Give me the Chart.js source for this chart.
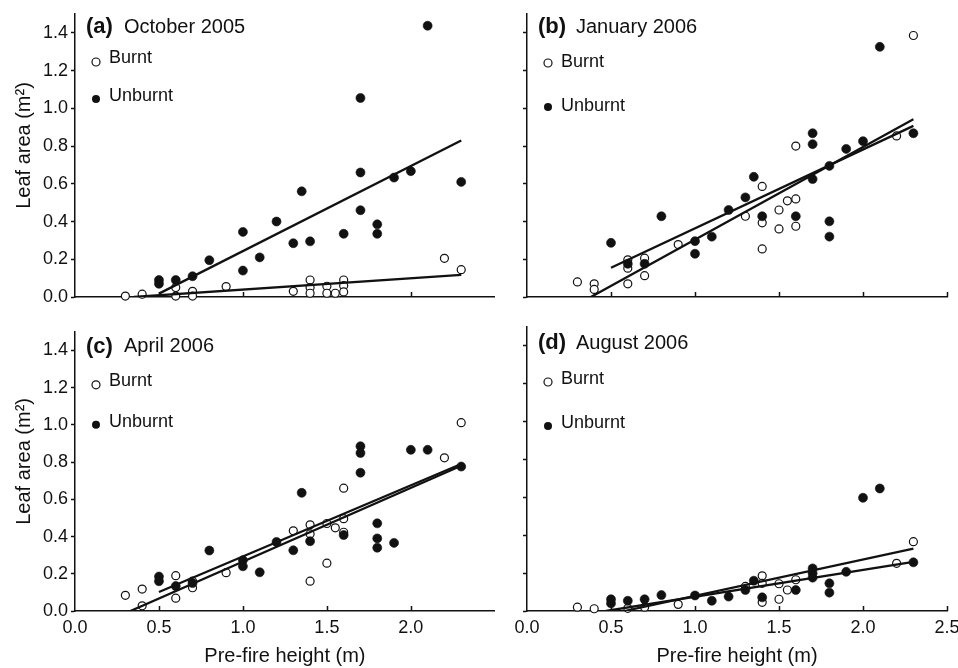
<!DOCTYPE html>
<html lang="en">
<head>
<meta charset="utf-8">
<title>Leaf area vs pre-fire height</title>
<script src="https://cdn.jsdelivr.net/npm/chart.js@4.4.1/dist/chart.umd.min.js"></script>
<style>
  html, body { margin: 0; padding: 0; background: #fff; overflow: hidden; }
  #figure { position: relative; width: 958px; height: 668px; overflow: hidden; }
  #figure canvas { position: absolute; }
</style>
</head>
<body>
<div id="figure">
  <canvas id="panel-a" width="500" height="318" style="left:0;top:0"></canvas>
  <canvas id="panel-b" width="490" height="318" style="left:480px;top:0"></canvas>
  <canvas id="panel-c" width="500" height="350" style="left:0;top:318px"></canvas>
  <canvas id="panel-d" width="490" height="350" style="left:480px;top:318px"></canvas>
</div>
<script>
// axis ticks
const yTicks = [0, 0.2, 0.4, 0.6, 0.8, 1.0, 1.2, 1.4];
const xTicks = [0, 0.5, 1.0, 1.5, 2.0, 2.5];

// (a) October 2005 - [pre-fire height (m), leaf area (m2)]
const octBurnt = [
  [0.3, 0.005], [0.4, 0.015], [0.6, 0.05], [0.6, 0.005], [0.7, 0.03], [0.7, 0.005],
  [0.9, 0.055], [1.3, 0.03], [1.4, 0.09], [1.4, 0.05], [1.4, 0.02], [1.5, 0.057],
  [1.5, 0.02], [1.55, 0.02], [1.6, 0.09], [1.6, 0.06], [1.6, 0.027], [2.2, 0.205], [2.3, 0.145]
];
const octUnburnt = [
  [0.5, 0.09], [0.5, 0.07], [0.6, 0.09], [0.7, 0.11], [0.8, 0.195], [1.0, 0.345],
  [1.0, 0.14], [1.1, 0.21], [1.2, 0.40], [1.3, 0.285], [1.35, 0.56], [1.4, 0.295],
  [1.6, 0.335], [1.7, 1.055], [1.7, 0.66], [1.7, 0.46], [1.8, 0.385], [1.8, 0.335],
  [1.9, 0.633], [2.0, 0.667], [2.1, 1.438], [2.3, 0.61]
];
const octBurntFit = [[0.35, 0], [2.3, 0.117]];
const octUnburntFit = [[0.5, 0.018], [2.3, 0.83]];

// (b) January 2006
const janBurnt = [
  [0.3, 0.08], [0.4, 0.07], [0.4, 0.04], [0.6, 0.197], [0.6, 0.153], [0.6, 0.07],
  [0.7, 0.206], [0.7, 0.113], [0.9, 0.278], [1.3, 0.428], [1.4, 0.586], [1.4, 0.393],
  [1.4, 0.255], [1.5, 0.461], [1.5, 0.361], [1.55, 0.51], [1.6, 0.8], [1.6, 0.52],
  [1.6, 0.375], [2.2, 0.854], [2.3, 1.386]
];
const janUnburnt = [
  [0.5, 0.287], [0.6, 0.176], [0.7, 0.176], [0.8, 0.428], [1.0, 0.296], [1.0, 0.229],
  [1.1, 0.32], [1.2, 0.461], [1.3, 0.528], [1.35, 0.637], [1.4, 0.428], [1.6, 0.428],
  [1.7, 0.868], [1.7, 0.81], [1.7, 0.625], [1.8, 0.695], [1.8, 0.401], [1.8, 0.32],
  [1.9, 0.785], [2.0, 0.826], [2.1, 1.326], [2.3, 0.868]
];
const janBurntFit = [[0.38, 0], [2.3, 0.942]];
const janUnburntFit = [[0.5, 0.155], [2.3, 0.907]];

// (c) April 2006
const aprBurnt = [
  [0.3, 0.084], [0.4, 0.118], [0.4, 0.028], [0.6, 0.19], [0.6, 0.069], [0.7, 0.16],
  [0.7, 0.125], [0.9, 0.206], [1.3, 0.431], [1.4, 0.463], [1.4, 0.414], [1.4, 0.16],
  [1.5, 0.47], [1.5, 0.257], [1.55, 0.447], [1.6, 0.66], [1.6, 0.496], [1.6, 0.423],
  [2.2, 0.823], [2.3, 1.012]
];
const aprUnburnt = [
  [0.5, 0.185], [0.5, 0.16], [0.6, 0.134], [0.7, 0.15], [0.8, 0.325], [1.0, 0.273],
  [1.0, 0.24], [1.1, 0.208], [1.2, 0.371], [1.3, 0.326], [1.35, 0.635], [1.4, 0.375],
  [1.6, 0.408], [1.7, 0.885], [1.7, 0.849], [1.7, 0.743], [1.8, 0.471], [1.8, 0.39],
  [1.8, 0.34], [1.9, 0.366], [2.0, 0.866], [2.1, 0.866], [2.3, 0.776]
];
const aprBurntFit = [[0.33, 0], [2.3, 0.78]];
const aprUnburntFit = [[0.5, 0.102], [2.3, 0.79]];

// (d) August 2006
const augBurnt = [
  [0.3, 0.02], [0.4, 0.012], [0.6, 0.014], [0.7, 0.02], [0.9, 0.035], [1.3, 0.13],
  [1.4, 0.186], [1.4, 0.146], [1.4, 0.046], [1.5, 0.144], [1.5, 0.062], [1.55, 0.111],
  [1.6, 0.165], [2.2, 0.252], [2.3, 0.366]
];
const augUnburnt = [
  [0.5, 0.062], [0.5, 0.04], [0.6, 0.054], [0.7, 0.062], [0.8, 0.084], [1.0, 0.082],
  [1.1, 0.054], [1.2, 0.076], [1.3, 0.111], [1.35, 0.16], [1.4, 0.072], [1.6, 0.111],
  [1.7, 0.225], [1.7, 0.2], [1.7, 0.176], [1.8, 0.146], [1.8, 0.097], [1.9, 0.207],
  [2.0, 0.598], [2.1, 0.647], [2.3, 0.257]
];
const augBurntFit = [[0.58, 0], [2.3, 0.33]];
const augUnburntFit = [[0.47, 0], [2.3, 0.26]];

const INK = '#111';
const FONT = "'Liberation Sans', Arial, Helvetica, sans-serif";
Chart.defaults.font.family = FONT;
Chart.defaults.color = INK;

const toXY = pairs => pairs.map(([x, y]) => ({ x, y }));

function drawMarker(ctx, x, y, filled) {
  ctx.beginPath();
  ctx.arc(x, y, 4, 0, Math.PI * 2);
  if (filled) {
    ctx.fillStyle = INK;
    ctx.fill();
  } else {
    ctx.fillStyle = '#fff';
    ctx.fill();
    ctx.lineWidth = 1.2;
    ctx.strokeStyle = INK;
    ctx.stroke();
  }
}

// inward x ticks, y title, panel heading and the little key
const panelDecor = {
  id: 'panelDecor',
  beforeDatasetsDraw(chart) {
    const { ctx, chartArea: area } = chart;
    const xs = chart.scales.x;
    ctx.save();
    ctx.strokeStyle = INK;
    ctx.lineWidth = 1.5;
    xs.ticks.forEach(t => {
      if (t.value <= 0) return;
      const px = Math.round(xs.getPixelForValue(t.value)) + 0.5;
      ctx.beginPath();
      ctx.moveTo(px, area.bottom);
      ctx.lineTo(px, area.bottom - 5);
      ctx.stroke();
    });
    ctx.restore();
  },
  afterDraw(chart, args, opts) {
    const { ctx, chartArea: area } = chart;
    ctx.save();
    ctx.textBaseline = 'middle';
    ctx.textAlign = 'left';
    ctx.fillStyle = INK;

    if (opts.yTitle) {
      ctx.save();
      ctx.translate(24, (area.top + area.bottom) / 2 - 10);
      ctx.rotate(-Math.PI / 2);
      ctx.textAlign = 'center';
      ctx.font = '20px ' + FONT;
      ctx.fillText(opts.yTitle, 0, 0);
      ctx.restore();
    }

    ctx.font = 'bold 22px ' + FONT;
    ctx.fillText(opts.tag, area.left + 11, area.top + opts.headDy);
    ctx.font = '20px ' + FONT;
    ctx.fillText(opts.title, area.left + 49, area.top + opts.headDy);

    opts.key.forEach(k => {
      drawMarker(ctx, area.left + 21, area.top + k.dy, k.filled);
      ctx.fillStyle = INK;
      ctx.font = '18px ' + FONT;
      ctx.fillText(k.text, area.left + 34, area.top + k.dy - k.lift);
    });
    ctx.restore();
  }
};

function makePanel(id, p) {
  const fitLine = pts => ({
    data: toXY(pts),
    showLine: true,
    borderColor: INK,
    borderWidth: 2.3,
    pointRadius: 0,
    tension: 0
  });

  new Chart(document.getElementById(id), {
    type: 'scatter',
    data: {
      datasets: [
        fitLine(p.burntFit),
        fitLine(p.unburntFit),
        {
          label: 'Unburnt',
          data: toXY(p.unburnt),
          pointRadius: 4.5,
          backgroundColor: INK,
          borderColor: INK,
          borderWidth: 0.6,
          clip: false
        },
        {
          label: 'Burnt',
          data: toXY(p.burnt),
          pointRadius: 4,
          backgroundColor: '#fff',
          borderColor: INK,
          borderWidth: 1.2,
          clip: false
        }
      ]
    },
    options: {
      responsive: false,
      animation: false,
      events: [],
      layout: {
        padding: { top: p.padTop, right: p.padRight, left: 0, bottom: 0 }
      },
      plugins: {
        legend: { display: false },
        tooltip: { enabled: false },
        panelDecor: {
          tag: p.tag,
          title: p.title,
          headDy: p.headDy,
          yTitle: p.yLabels ? 'Leaf area (m²)' : '',
          key: [
            { text: 'Burnt', filled: false, dy: p.keyDy[0], lift: p.keyLift[0] },
            { text: 'Unburnt', filled: true, dy: p.keyDy[1], lift: p.keyLift[1] }
          ]
        }
      },
      scales: {
        x: {
          type: 'linear',
          min: 0,
          max: 2.5,
          afterBuildTicks: s => { s.ticks = p.xTicks.map(v => ({ value: v })); },
          afterFit: s => { s.height = p.xHeight; },
          grid: { drawOnChartArea: false, drawTicks: false },
          border: { color: INK, width: 1.5 },
          ticks: {
            display: p.xLabels,
            padding: 6,
            color: INK,
            font: { size: 18 },
            callback: v => Number(v).toFixed(1)
          },
          title: {
            display: p.xLabels,
            text: 'Pre-fire height (m)',
            color: INK,
            font: { size: 20 },
            padding: 0
          }
        },
        y: {
          type: 'linear',
          min: 0,
          max: 1.5,
          afterBuildTicks: s => { s.ticks = yTicks.map(v => ({ value: v })); },
          afterFit: s => { s.width = p.yWidth; },
          grid: { drawOnChartArea: false, drawTicks: true, tickLength: 4, color: INK, tickWidth: 1.5 },
          border: { color: INK, width: 1.5 },
          ticks: {
            display: p.yLabels,
            padding: 3,
            color: INK,
            font: { size: 18 },
            callback: v => Number(v).toFixed(1)
          }
        }
      }
    },
    plugins: [panelDecor]
  });
}

makePanel('panel-a', {
  tag: '(a)', title: 'October 2005',
  burnt: octBurnt, unburnt: octUnburnt, burntFit: octBurntFit, unburntFit: octUnburntFit,
  xTicks: xTicks.slice(0, 5), xLabels: false, yLabels: true,
  padTop: 14, padRight: 5, yWidth: 75, xHeight: 21,
  headDy: 13, keyDy: [48, 85], keyLift: [3.5, 3]
});
makePanel('panel-b', {
  tag: '(b)', title: 'January 2006',
  burnt: janBurnt, unburnt: janUnburnt, burntFit: janBurntFit, unburntFit: janUnburntFit,
  xTicks: xTicks, xLabels: false, yLabels: false,
  padTop: 14, padRight: 23, yWidth: 47, xHeight: 21,
  headDy: 13, keyDy: [49, 93], keyLift: [0.5, 0.5]
});
makePanel('panel-c', {
  tag: '(c)', title: 'April 2006',
  burnt: aprBurnt, unburnt: aprUnburnt, burntFit: aprBurntFit, unburntFit: aprUnburntFit,
  xTicks: xTicks.slice(0, 5), xLabels: true, yLabels: true,
  padTop: 9, padRight: 5, yWidth: 75, xHeight: 57,
  headDy: 15, keyDy: [53, 93], keyLift: [4, 2.5]
});
makePanel('panel-d', {
  tag: '(d)', title: 'August 2006',
  burnt: augBurnt, unburnt: augUnburnt, burntFit: augBurntFit, unburntFit: augUnburntFit,
  xTicks: xTicks, xLabels: true, yLabels: false,
  padTop: 9, padRight: 23, yWidth: 47, xHeight: 57,
  headDy: 16, keyDy: [55, 99], keyLift: [3, 3]
});
</script>
</body>
</html>
